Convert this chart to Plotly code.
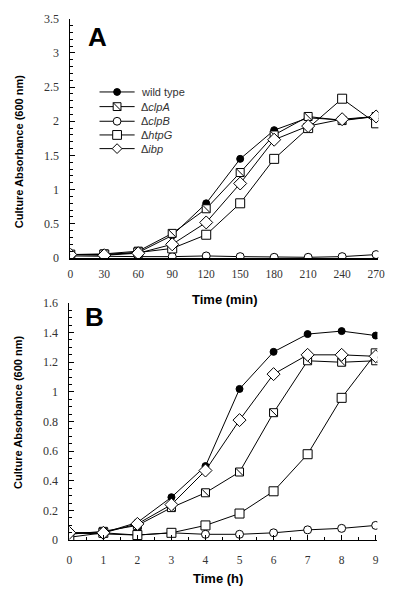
import plotly.graph_objects as go

# Panel A (time in min)
time_min = [0, 30, 60, 90, 120, 150, 180, 210, 240, 270]
a_wt   = [0.05, 0.05, 0.08, 0.33, 0.80, 1.45, 1.87, 2.05, 2.02, 2.07]
a_clpA = [0.05, 0.06, 0.10, 0.36, 0.72, 1.25, 1.80, 2.07, 2.01, 2.07]
a_clpB = [0.03, 0.02, 0.02, 0.02, 0.03, 0.02, 0.01, 0.01, 0.02, 0.05]
a_htpG = [0.05, 0.05, 0.08, 0.14, 0.34, 0.80, 1.45, 1.90, 2.33, 1.97]
a_ibp  = [0.05, 0.04, 0.07, 0.20, 0.52, 1.09, 1.73, 1.93, 2.03, 2.07]

# Panel B (time in h)
time_h = [0, 1, 2, 3, 4, 5, 6, 7, 8, 9]
b_wt   = [0.05, 0.05, 0.12, 0.29, 0.50, 1.02, 1.27, 1.39, 1.41, 1.38]
b_clpA = [0.04, 0.06, 0.10, 0.22, 0.32, 0.46, 0.86, 1.21, 1.20, 1.21]
b_clpB = [0.05, 0.04, 0.035, 0.05, 0.04, 0.04, 0.05, 0.07, 0.08, 0.10]
b_htpG = [0.02, 0.05, 0.035, 0.05, 0.10, 0.18, 0.33, 0.58, 0.96, 1.26]
b_ibp  = [0.05, 0.05, 0.11, 0.24, 0.47, 0.81, 1.12, 1.25, 1.25, 1.24]

names = ["wild type", "Δ<i>clpA</i>", "Δ<i>clpB</i>", "Δ<i>htpG</i>", "Δ<i>ibp</i>"]
styles = [
    dict(symbol="circle", size=7, color="black", line=dict(color="black", width=1)),
    dict(symbol="square", size=8, color="white", line=dict(color="black", width=1)),
    dict(symbol="circle", size=8, color="white", line=dict(color="black", width=1)),
    dict(symbol="square", size=9, color="white", line=dict(color="black", width=1)),
    dict(symbol="diamond", size=10, color="white", line=dict(color="black", width=1)),
]

fig = go.Figure()

def add_panel(x, series, xa, ya):
    for i, (nm, y) in enumerate(zip(names, series)):
        fig.add_trace(go.Scatter(
            x=x, y=y, mode="lines+markers", name=nm,
            line=dict(color="black", width=1), marker=styles[i],
            xaxis=xa, yaxis=ya, showlegend=False))
        if i == 1:
            fig.add_trace(go.Scatter(
                x=x, y=y, mode="markers", showlegend=False,
                marker=dict(symbol="line-nw", size=7, line=dict(color="black", width=1)),
                xaxis=xa, yaxis=ya, hoverinfo="skip"))

add_panel(time_min, [a_wt, a_clpA, a_clpB, a_htpG, a_ibp], "x", "y")
add_panel(time_h, [b_wt, b_clpA, b_clpB, b_htpG, b_ibp], "x2", "y2")

W, H = 400, 599
tickfont = dict(family="Liberation Serif, DejaVu Serif, serif", size=12, color="#333")
xtickfont = dict(family="Liberation Serif, DejaVu Serif, serif", size=11.5, color="#333")
bold = "Liberation Sans"

def px(x):
    return x / W

def py(y):
    return 1 - y / H

common_y = dict(showline=True, linecolor="black", linewidth=1, ticks="inside", ticklen=5,
                tickcolor="black", showgrid=False, zeroline=False, tickfont=tickfont,
                ticklabelstandoff=8)
common_x = dict(showline=True, linecolor="black", showgrid=False, zeroline=False,
                tickfont=xtickfont, tickcolor="black")

# Manual legend (panel A)
shapes = []
annotations = []
leg_rows = [87, 102, 117, 131, 145]
for i, (nm, ry) in enumerate(zip(names, leg_rows)):
    shapes.append(dict(type="line", xref="paper", yref="paper",
                       x0=px(99), x1=px(135), y0=py(ry), y1=py(ry),
                       line=dict(color="black", width=1)))
    cx = 117
    if i == 0:
        r = 3.5
        shapes.append(dict(type="circle", xref="paper", yref="paper",
                           x0=px(cx - r), x1=px(cx + r), y0=py(ry + r), y1=py(ry - r),
                           fillcolor="black", line=dict(color="black", width=1)))
    elif i == 2:
        r = 4
        shapes.append(dict(type="circle", xref="paper", yref="paper",
                           x0=px(cx - r), x1=px(cx + r), y0=py(ry + r), y1=py(ry - r),
                           fillcolor="white", line=dict(color="black", width=1)))
    elif i in (1, 3):
        r = 4 if i == 1 else 4.5
        shapes.append(dict(type="rect", xref="paper", yref="paper",
                           x0=px(cx - r), x1=px(cx + r), y0=py(ry + r), y1=py(ry - r),
                           fillcolor="white", line=dict(color="black", width=1)))
        if i == 1:
            shapes.append(dict(type="line", xref="paper", yref="paper",
                               x0=px(cx - r), x1=px(cx + r), y0=py(ry - r), y1=py(ry + r),
                               line=dict(color="black", width=1)))
    else:
        r = 5
        path = (f"M {px(cx - r)},{py(ry)} L {px(cx)},{py(ry - r)} "
                f"L {px(cx + r)},{py(ry)} L {px(cx)},{py(ry + r)} Z")
        shapes.append(dict(type="path", xref="paper", yref="paper", path=path,
                           fillcolor="white", line=dict(color="black", width=1)))
    annotations.append(dict(text=nm, x=px(139), y=py(ry), xref="paper", yref="paper",
                            xanchor="left", yanchor="middle", showarrow=False,
                            font=dict(family=bold, size=11, color="#333")))

annotations += [
    dict(text="A", x=px(85), y=py(31), xref="paper", yref="paper",
         xanchor="left", yanchor="middle", showarrow=False,
         font=dict(family=bold, size=26, color="black", weight="bold")),
    dict(text="B", x=px(82), y=py(317), xref="paper", yref="paper",
         xanchor="left", yanchor="middle", showarrow=False,
         font=dict(family=bold, size=26, color="black", weight="bold")),
    dict(text="<b>Culture Absorbance (600 nm)</b>", x=px(16), y=py(148),
         xref="paper", yref="paper", textangle=-90, showarrow=False,
         xanchor="center", yanchor="middle",
         font=dict(family=bold, size=11, color="black")),
    dict(text="<b>Culture Absorbance (600 nm)</b>", x=px(16), y=py(415),
         xref="paper", yref="paper", textangle=-90, showarrow=False,
         xanchor="center", yanchor="middle",
         font=dict(family=bold, size=11, color="black")),
    dict(text="<b>Time (min)</b>", x=px(228), y=py(299), xref="paper", yref="paper",
         showarrow=False, xanchor="center", yanchor="middle",
         font=dict(family=bold, size=13, color="black")),
    dict(text="<b>Time (h)</b>", x=px(220), y=py(585), xref="paper", yref="paper",
         showarrow=False, xanchor="center", yanchor="middle",
         font=dict(family=bold, size=13, color="black")),
]

fig.update_layout(
    width=W, height=H,
    margin=dict(l=0, r=0, t=0, b=0),
    paper_bgcolor="white", plot_bgcolor="white",
    showlegend=False,
    xaxis=dict(domain=[px(69), px(385)], range=[0, 272], tickvals=time_min,
               linewidth=1.5, ticks="", anchor="y", ticklabelstandoff=4, **common_x),
    yaxis=dict(domain=[py(257), py(12)], range=[0, 3.5], dtick=0.5,
               tickformat="~g", anchor="x",
               minor=dict(dtick=0.1, ticks="inside", ticklen=3, tickcolor="black"),
               **common_y),
    xaxis2=dict(domain=[px(68), px(384)], range=[0, 9.05], tickvals=time_h,
                linewidth=1, ticks="inside", ticklen=5, anchor="y2", ticklabelstandoff=9,
                minor=dict(dtick=0.5, ticks="inside", ticklen=3, tickcolor="black"),
                **common_x),
    yaxis2=dict(domain=[py(546), py(303)], range=[0, 1.6], dtick=0.2,
                tickformat="~g", anchor="x2",
                minor=dict(dtick=0.05, ticks="inside", ticklen=3, tickcolor="black"),
                **common_y),
    shapes=shapes,
    annotations=annotations,
)

fig.write_html("out.html", config={"displayModeBar": False},
               post_script="document.body.style.margin='0';document.body.style.overflow='hidden';")
